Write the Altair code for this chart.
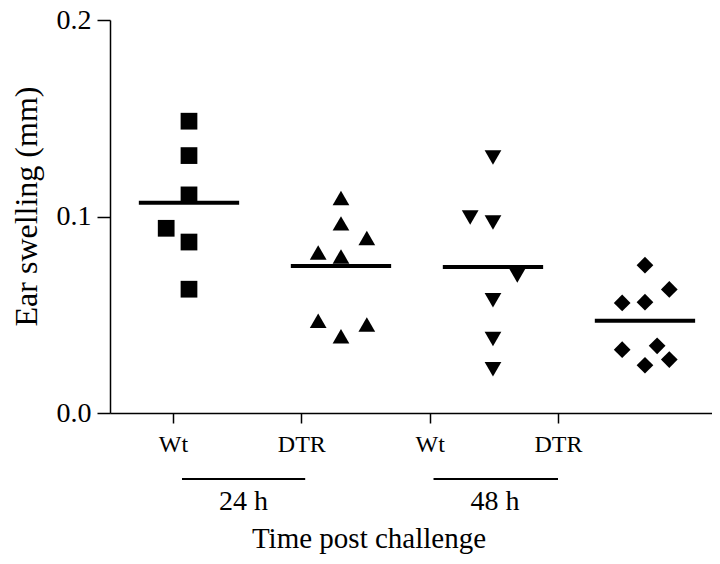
import json
import altair as alt
import pandas as pd

# ---- data ----
groups = ["Wt 24 h", "DTR 24 h", "Wt 48 h", "DTR 48 h"]
shapes = ["square", "triangle-up", "triangle-down", "diamond"]
group_pos = [1, 2, 3, 4]

wt24_vals = [0.1485, 0.131, 0.111, 0.094, 0.087, 0.063]
wt24_off = [0, 0, 0, -0.15, 0, 0]
dtr24_vals = [0.1094, 0.0965, 0.089, 0.0817, 0.0797, 0.047, 0.045, 0.039]
dtr24_off = [0, 0, 0.17, -0.15, 0, -0.15, 0.17, 0]
wt48_vals = [0.130, 0.0995, 0.097, 0.070, 0.0574, 0.0376, 0.0223]
wt48_off = [0, -0.15, 0, 0.16, 0, 0, 0]
dtr48_vals = [0.0752, 0.0629, 0.056, 0.0564, 0.0322, 0.0342, 0.0272, 0.0243]
dtr48_off = [0, 0.16, -0.15, 0, -0.15, 0.08, 0.16, 0]

means = [0.107, 0.0748, 0.0743, 0.047]

tick_labels = ["Wt", "DTR", "Wt", "DTR"]
tick_pos = [1, 2, 3, 4]
time_labels = ["24 h", "48 h"]
time_start = [1.07, 3.03]
time_end = [2.03, 4.00]
time_center = [1.55, 3.51]
x_title = "Time post challenge"
x_title_pos = [2.527]
y_title = "Ear swelling (mm)"

FONT = "Liberation Serif"
TOP = 12         # padding above plot area
H = 393          # plot height

rows = []
for g, p, vals, offs in zip(groups, group_pos,
                            [wt24_vals, dtr24_vals, wt48_vals, dtr48_vals],
                            [wt24_off, dtr24_off, wt48_off, dtr48_off]):
    for v, o in zip(vals, offs):
        rows.append({"group": g, "x": p + o, "value": v})
pts = pd.DataFrame(rows)
mean_df = pd.DataFrame({"group": groups, "pos": group_pos, "mean": means})
time_df = pd.DataFrame({"label": time_labels, "start": time_start,
                        "end": time_end, "center": time_center})
title_df = pd.DataFrame({"label": [x_title], "center": x_title_pos})

pt_scale = alt.Scale(domain=[0.4803, 4.441], nice=False, zero=False)
lab_scale = alt.Scale(domain=[0.509, 5.2], nice=False, zero=False)
y_scale = alt.Scale(domain=[0, 0.2], nice=False, zero=True)

y_axis = alt.Axis(values=[0, 0.1, 0.2], format=".1f", grid=False,
                  domainColor="black", domainWidth=1.5, tickColor="black",
                  tickWidth=1.5, tickSize=13, labelFont=FONT, labelFontSize=28,
                  labelColor="black", labelPadding=6, title=y_title,
                  titleFont=FONT, titleFontSize=32, titleFontWeight="normal",
                  titleColor="black", titleX=-84, titleY=186,
                  titleAngle=270, titleAlign="center", titleBaseline="middle")

points = alt.Chart(pts).mark_point(filled=True, opacity=1, size=280).encode(
    x=alt.X("x:Q", scale=pt_scale, axis=None),
    y=alt.Y("value:Q", scale=y_scale, axis=y_axis),
    shape=alt.Shape("group:N", scale=alt.Scale(domain=groups, range=shapes), legend=None),
    color=alt.value("black"),
)

mean_rules = alt.Chart(mean_df).mark_rule(color="black", strokeWidth=4).transform_calculate(
    x1="datum.pos - 0.33", x2="datum.pos + 0.33"
).encode(
    x=alt.X("x1:Q", scale=pt_scale, axis=None),
    x2="x2:Q",
    y=alt.Y("mean:Q", scale=y_scale),
)

A = alt.layer(points, mean_rules)

x_axis = alt.Axis(values=tick_pos, labelExpr=json.dumps(tick_labels) + "[datum.value - 1]",
                  orient="bottom", grid=False, domainColor="black", domainWidth=1.5,
                  tickColor="black", tickWidth=1.5, tickSize=10, labelFont=FONT,
                  labelFontSize=24, labelColor="black", labelPadding=9, title=None)

base_y = H  # plot-area bottom in pixels
time_rules = alt.Chart(time_df).mark_rule(color="black", strokeWidth=2).encode(
    x=alt.X("start:Q", scale=lab_scale, axis=x_axis),
    x2="end:Q",
    y=alt.value(base_y + 66),
)
time_text = alt.Chart(time_df).mark_text(font=FONT, fontSize=28, color="black",
                                         baseline="middle", align="center").encode(
    x=alt.X("center:Q", scale=lab_scale, axis=x_axis),
    y=alt.value(base_y + 89),
    text="label:N",
)
title_text = alt.Chart(title_df).mark_text(font=FONT, fontSize=29, color="black",
                                           baseline="alphabetic", align="center").encode(
    x=alt.X("center:Q", scale=lab_scale, axis=x_axis),
    y=alt.value(base_y + 135),
    text="label:N",
)
B = alt.layer(time_rules, time_text, title_text)

chart = alt.layer(A, B).resolve_scale(x="independent").properties(
    width=602, height=H,
    autosize=alt.AutoSizeParams(type="none"),
    padding={"left": 102, "top": TOP, "right": 0, "bottom": 548 - TOP - H},
).configure_view(stroke=None)

chart.save("out.html", embed_options={"renderer": "svg", "actions": False})
